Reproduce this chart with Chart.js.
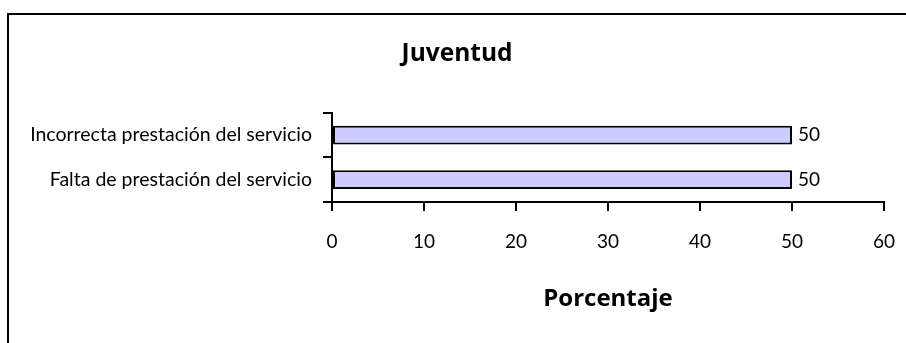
<!DOCTYPE html>
<html>
<head>
<meta charset="utf-8">
<script src="https://cdn.jsdelivr.net/npm/chart.js@4.4.0/dist/chart.umd.min.js"></script>
<style>
  html, body { margin: 0; padding: 0; background: #fff; overflow: hidden; }
  #wrap { position: relative; width: 906px; height: 343px; }
  #frame { position: absolute; left: 7px; top: 13px; width: 940px; height: 400px; border: 2px solid #000; box-sizing: border-box; }
  canvas { position: absolute; left: 0; top: 0; }
</style>
</head>
<body>
<div id="wrap">
  <div id="frame"></div>
  <canvas id="c" width="906" height="343"></canvas>
</div>
<script>
const titleText = 'Juventud';
const axisTitle = 'Porcentaje';
const categories = ['Incorrecta prestación del servicio', 'Falta de prestación del servicio'];
const values = [50, 50];
const xMin = 0, xMax = 60, xStep = 10;

const FONT = 'Lato, "Open Sans", sans-serif';
const BOLD_FONT = '"Open Sans", Lato, sans-serif';

const dataLabels = {
  id: 'dataLabels',
  afterDatasetsDraw(chart) {
    const ctx = chart.ctx;
    ctx.save();
    ctx.font = '19px ' + FONT;
    ctx.fillStyle = '#000';
    ctx.textBaseline = 'middle';
    ctx.textAlign = 'left';
    chart.getDatasetMeta(0).data.forEach((bar, i) => {
      ctx.fillText(String(values[i]), bar.x + 6, bar.y);
    });
    ctx.restore();
  }
};

new Chart(document.getElementById('c'), {
  type: 'bar',
  data: {
    labels: categories,
    datasets: [{
      data: values,
      backgroundColor: '#CCCCFF',
      borderColor: '#000',
      borderWidth: 2,
      borderSkipped: false,
      barPercentage: 0.42,
      categoryPercentage: 1.0
    }]
  },
  options: {
    indexAxis: 'y',
    responsive: false,
    animation: false,
    layout: { padding: { left: 30, right: 22, top: 0, bottom: 0 } },
    plugins: {
      legend: { display: false },
      tooltip: { enabled: false },
      title: {
        display: true,
        text: titleText,
        color: '#000',
        font: { family: BOLD_FONT, size: 24.5, weight: 'bold', lineHeight: 1.2 },
        padding: { top: 39, bottom: 44.5 }
      }
    },
    scales: {
      x: {
        type: 'linear',
        min: xMin, max: xMax,
        afterFit(scale) { scale.height = 141; scale.paddingLeft = 0; scale.paddingRight = 0; },
        ticks: { stepSize: xStep, color: '#000', padding: 19, font: { family: FONT, size: 19 }, maxRotation: 0 },
        grid: { drawOnChartArea: false, drawTicks: true, tickLength: 9, color: '#000', lineWidth: 2 },
        border: { display: true, color: '#000', width: 2 },
        title: { display: true, text: axisTitle, color: '#000', font: { family: BOLD_FONT, size: 24, weight: 'bold', lineHeight: 1.2 }, padding: { top: 0, bottom: 29.5 } }
      },
      y: {
        afterFit(scale) { scale.width = 302; },
        ticks: { color: '#000', padding: 11, font: { family: FONT, size: 19.5 } },
        grid: { drawOnChartArea: false, drawTicks: true, tickLength: 9, color: '#000', lineWidth: 2, offset: true },
        border: { display: true, color: '#000', width: 2 }
      }
    }
  },
  plugins: [dataLabels]
});
</script>
</body>
</html>
